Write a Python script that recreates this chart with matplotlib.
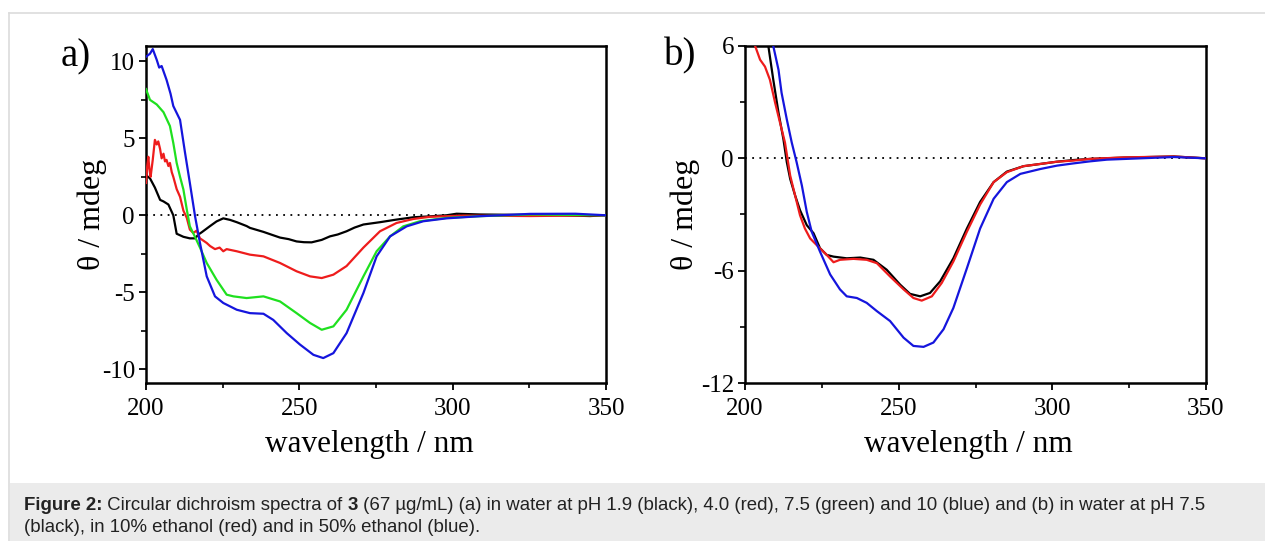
import matplotlib
matplotlib.use("Agg")
import matplotlib.pyplot as plt
from matplotlib.ticker import MultipleLocator
from matplotlib.patches import Rectangle
from matplotlib.lines import Line2D

# ---------------- data (a): pH series ----------------
a_black_x = [200, 201.3, 202.9, 204.6, 205.7, 207.3, 208.9, 210.0, 212.2, 214.3, 216.0, 217.1, 218.2,
             220.9, 223.0, 225.2, 227.4, 229.6, 232.8, 233.9, 238.3, 241.5, 243.7, 246.5, 249.1, 251.5,
             254.0, 257.3, 260.0, 262.5, 265.4, 268.0, 270.9, 276.3, 281.7, 287.2, 292.6, 298.0, 301.3,
             309.0, 325.2, 335.0, 344.8, 350.0]
a_black_y = [2.6, 2.4, 1.8, 1.0, 0.9, 0.7, 0.0, -1.2, -1.4, -1.5, -1.5, -1.25, -1.1,
             -0.7, -0.4, -0.2, -0.3, -0.45, -0.7, -0.82, -1.08, -1.3, -1.45, -1.55, -1.7, -1.75,
             -1.76, -1.6, -1.37, -1.25, -1.04, -0.8, -0.6, -0.45, -0.28, -0.13, -0.07, 0.0, 0.1,
             0.05, 0.02, 0.0, -0.05, 0.0]

a_red_x = [200, 200.4, 200.76, 201.1, 201.5, 202.2, 202.9, 203.5, 204.0, 204.6, 205.1, 205.7, 206.2,
           206.7, 207.3, 207.8, 208.4, 208.9, 210.0, 211.1, 212.2, 213.3, 214.3, 215.4, 216.5, 217.6,
           218.2, 219.8, 220.9, 222.5, 224.0, 225.2, 226.3, 229.6, 233.9, 238.3, 243.7, 249.1, 253.5,
           257.3, 261.1, 265.4, 270.9, 276.3, 281.7, 287.2, 292.6, 303.5, 325.2, 350.0]
a_red_y = [2.1, 3.2, 3.8, 3.0, 2.5, 3.6, 4.9, 4.6, 4.8, 4.3, 3.7, 4.0, 3.5,
           3.6, 3.2, 3.4, 2.8, 2.5, 1.7, 1.2, 0.3, -0.17, -0.93, -1.15, -1.0, -1.5,
           -1.58, -1.8, -2.0, -2.2, -2.1, -2.34, -2.2, -2.34, -2.56, -2.67, -3.1, -3.64, -3.97,
           -4.08, -3.86, -3.3, -2.1, -1.04, -0.5, -0.24, -0.1, -0.02, -0.05, 0.0]

a_green_x = [200, 201.3, 203.5, 205.7, 207.8, 208.9, 210.0, 211.1, 212.2, 213.3, 214.3, 215.9, 217.6,
             219.8, 223.0, 226.3, 228.5, 232.8, 238.3, 243.7, 249.1, 253.5, 257.3, 261.1, 265.4, 270.9,
             275.2, 279.6, 283.9, 289.3, 298.0, 308.9, 325.2, 350.0]
a_green_y = [8.2, 7.5, 7.2, 6.7, 5.8, 4.7, 3.4, 2.5, 1.67, 0.37, -0.72, -1.37, -2.1,
             -3.1, -4.19, -5.16, -5.27, -5.38, -5.27, -5.6, -6.36, -7.0, -7.44, -7.22, -6.14, -3.97,
             -2.34, -1.37, -0.72, -0.39, -0.17, -0.06, 0.05, 0.0]

a_blue_x = [200, 201.3, 202.2, 203.5, 204.3, 205.1, 206.7, 208.0, 208.9, 211.1, 212.7, 214.3, 216.0,
            217.6, 219.8, 222.5, 225.2, 229.6, 233.9, 238.3, 241.5, 245.9, 250.2, 254.6, 257.8, 261.1,
            265.4, 270.9, 275.2, 279.6, 285.0, 290.4, 298.0, 308.9, 325.2, 340.0, 350.0]
a_blue_y = [10.3, 10.5, 10.8, 10.1, 9.6, 9.7, 8.8, 7.9, 7.1, 6.2, 4.1, 2.1, -0.07,
            -1.8, -3.97, -5.27, -5.7, -6.14, -6.36, -6.4, -6.8, -7.66, -8.4, -9.07, -9.28, -8.96,
            -7.66, -5.05, -2.67, -1.37, -0.72, -0.39, -0.2, -0.06, 0.09, 0.1, 0.0]

# ---------------- data (b): solvent series ----------------
b_black_x = [205.5, 207.6, 209.2, 210.9, 212.5, 213.6, 214.7, 216.3, 217.9, 220.1, 222.3, 224.4,
             226.6, 228.8, 233.1, 237.5, 241.8, 246.1, 250.5, 253.7, 257.0, 260.2, 263.5, 267.8,
             272.2, 276.5, 280.9, 285.2, 290.6, 296.1, 301.5, 306.9, 312.3, 323.2, 339.5, 350.0]
b_black_y = [8.5, 6.0, 4.2, 2.44, 1.02, -0.2, -1.1, -1.98, -2.77, -3.57, -4.0, -4.8,
             -5.16, -5.25, -5.34, -5.3, -5.42, -5.95, -6.75, -7.24, -7.37, -7.19, -6.57, -5.34,
             -3.75, -2.33, -1.27, -0.71, -0.42, -0.3, -0.18, -0.09, -0.03, 0.04, 0.1, 0.0]

b_red_x = [200.0, 203.3, 204.9, 206.5, 208.1, 209.8, 211.4, 213.0, 214.7, 216.3, 217.9, 219.5,
           221.2, 223.3, 226.6, 228.8, 230.9, 235.3, 239.6, 242.9, 247.2, 251.6, 254.8, 257.5,
           260.8, 264.0, 267.8, 272.2, 276.5, 280.9, 285.2, 290.6, 296.1, 301.5, 306.9, 312.3,
           323.2, 339.5, 350.0]
b_red_y = [7.6, 6.0, 5.27, 4.9, 4.2, 2.97, 1.9, 0.85, -0.92, -1.98, -3.04, -3.75,
           -4.28, -4.63, -5.16, -5.55, -5.42, -5.37, -5.42, -5.6, -6.31, -7.0, -7.46, -7.6,
           -7.37, -6.66, -5.51, -3.92, -2.47, -1.27, -0.74, -0.42, -0.3, -0.18, -0.12, -0.03,
           0.05, 0.1, 0.0]

b_blue_x = [207.0, 209.2, 210.9, 211.9, 213.6, 215.2, 216.8, 218.5, 220.1, 221.7, 224.4, 227.7,
            230.9, 233.1, 236.4, 239.6, 242.9, 247.2, 251.6, 254.8, 258.1, 261.3, 264.6, 267.8,
            272.2, 276.5, 280.9, 285.2, 289.6, 296.1, 301.5, 306.9, 312.3, 317.8, 328.6, 339.5,
            350.0]
b_blue_y = [9.0, 6.0, 4.73, 3.5, 2.08, 0.85, -0.21, -1.45, -2.86, -3.92, -4.98, -6.2,
            -7.0, -7.37, -7.46, -7.72, -8.16, -8.69, -9.58, -10.02, -10.07, -9.84, -9.13, -7.99,
            -5.87, -3.75, -2.16, -1.27, -0.83, -0.57, -0.39, -0.27, -0.16, -0.07, 0.0, 0.07,
            0.0]

a_yticks = [-10, -5, 0, 5, 10]
b_yticks = [-12, -6, 0, 6]
x_ticks = [200, 250, 300, 350]

caption_parts = [
    ("Figure 2:", "bold"), (" Circular dichroism spectra of ", "normal"), ("3", "bold"),
    (" (67 µg/mL) (a) in water at pH 1.9 (black), 4.0 (red), 7.5 (green) and 10 (blue) and (b) in water at pH 7.5", "normal"),
]
caption_line2 = "(black), in 10% ethanol (red) and in 50% ethanol (blue)."

RED = "#ee1c1c"
GREEN = "#1fe01f"
BLUE = "#1515dd"

W, H = 1265, 541
fig = plt.figure(figsize=(W / 100, H / 100), dpi=100)
fig.patch.set_facecolor("white")

# frame + caption box
fig.add_artist(Line2D([9 / W, 9 / W], [0, 1 - 13 / H], color="#dcdcdc", lw=1.2, transform=fig.transFigure))
fig.add_artist(Line2D([9 / W, 1], [1 - 13 / H, 1 - 13 / H], color="#dcdcdc", lw=1.2, transform=fig.transFigure))
fig.add_artist(Rectangle((10 / W, 0), 1 - 10 / W, 58 / H, transform=fig.transFigure,
                         facecolor="#ebebeb", edgecolor="none", zorder=0))

serif = "Liberation Serif"
tick_fs = 18
label_fs = 23
xlabel_fs = 22.5


def style_axes(ax, yticks, ylim, yminor, ylabel_x):
    ax.set_xlim(200, 350)
    ax.set_ylim(*ylim)
    ax.set_xticks(x_ticks)
    ax.xaxis.set_minor_locator(MultipleLocator(25))
    ax.set_yticks(yticks)
    ax.set_yticklabels([("-" + str(abs(v))) if v < 0 else str(v) for v in yticks])
    ax.set_xticklabels([str(v) for v in x_ticks])
    ax.yaxis.set_minor_locator(MultipleLocator(yminor))
    ax.tick_params(which="major", direction="out", length=5, width=1.3)
    ax.tick_params(which="minor", direction="out", length=3.5, width=1.2)
    ax.tick_params(axis="x", which="major", pad=6)
    ax.tick_params(axis="y", which="major", pad=3)
    for lab in ax.get_xticklabels() + ax.get_yticklabels():
        lab.set_fontfamily(serif)
        lab.set_fontsize(tick_fs)
    for s in ax.spines.values():
        s.set_linewidth(1.8)
    ax.axhline(0, color="black", lw=1.3, ls=(0, (1, 3)), zorder=1)
    ax.set_xlabel("wavelength / nm", fontfamily=serif, fontsize=xlabel_fs, labelpad=7)
    ax.xaxis.label.set_x(0.485)
    ax.set_ylabel("θ / mdeg", fontfamily=serif, fontsize=label_fs)
    ax.yaxis.set_label_coords(ylabel_x, 0.5)


axa = fig.add_axes([146 / W, 1 - 383 / H, 460 / W, 337 / H])
axa.plot(a_black_x, a_black_y, color="black", lw=1.6, zorder=3)
axa.plot(a_red_x, a_red_y, color=RED, lw=1.6, zorder=3)
axa.plot(a_green_x, a_green_y, color=GREEN, lw=1.6, zorder=3)
axa.plot(a_blue_x, a_blue_y, color=BLUE, lw=1.6, zorder=3)
style_axes(axa, a_yticks, (-10.9, 11.0), 2.5, (107 - 146) / 460)

axb = fig.add_axes([745 / W, 1 - 383 / H, 461 / W, 337 / H])
axb.plot(b_black_x, b_black_y, color="black", lw=1.6, zorder=3)
axb.plot(b_red_x, b_red_y, color=RED, lw=1.6, zorder=3)
axb.plot(b_blue_x, b_blue_y, color=BLUE, lw=1.6, zorder=3)
style_axes(axb, b_yticks, (-12, 6), 3, (700 - 745) / 461)

fig.text(61 / W, 1 - 57 / H, "a)", fontfamily=serif, fontsize=28, va="center", ha="left")
fig.text(664 / W, 1 - 56 / H, "b)", fontfamily=serif, fontsize=28, va="center", ha="left")

# caption with mixed weights
fig.canvas.draw()
renderer = fig.canvas.get_renderer()
cap_fs = 13.4


def text_width(s, wt):
    t1 = fig.text(0, 0, s + "|", fontfamily="Liberation Sans", fontsize=cap_fs, fontweight=wt)
    t2 = fig.text(0, 0, "|", fontfamily="Liberation Sans", fontsize=cap_fs, fontweight=wt)
    w = t1.get_window_extent(renderer=renderer).width - t2.get_window_extent(renderer=renderer).width
    t1.remove()
    t2.remove()
    return w


x = 24
for txt, wt in caption_parts:
    fig.text(x / W, 1 - 506 / H, txt, fontfamily="Liberation Sans", fontsize=cap_fs,
             fontweight=wt, va="center", ha="left", color="#222222")
    x += text_width(txt, wt)
fig.text(24 / W, 1 - 528 / H, caption_line2, fontfamily="Liberation Sans", fontsize=cap_fs,
         va="center", ha="left", color="#222222")

fig.savefig("out.png", dpi=100)
